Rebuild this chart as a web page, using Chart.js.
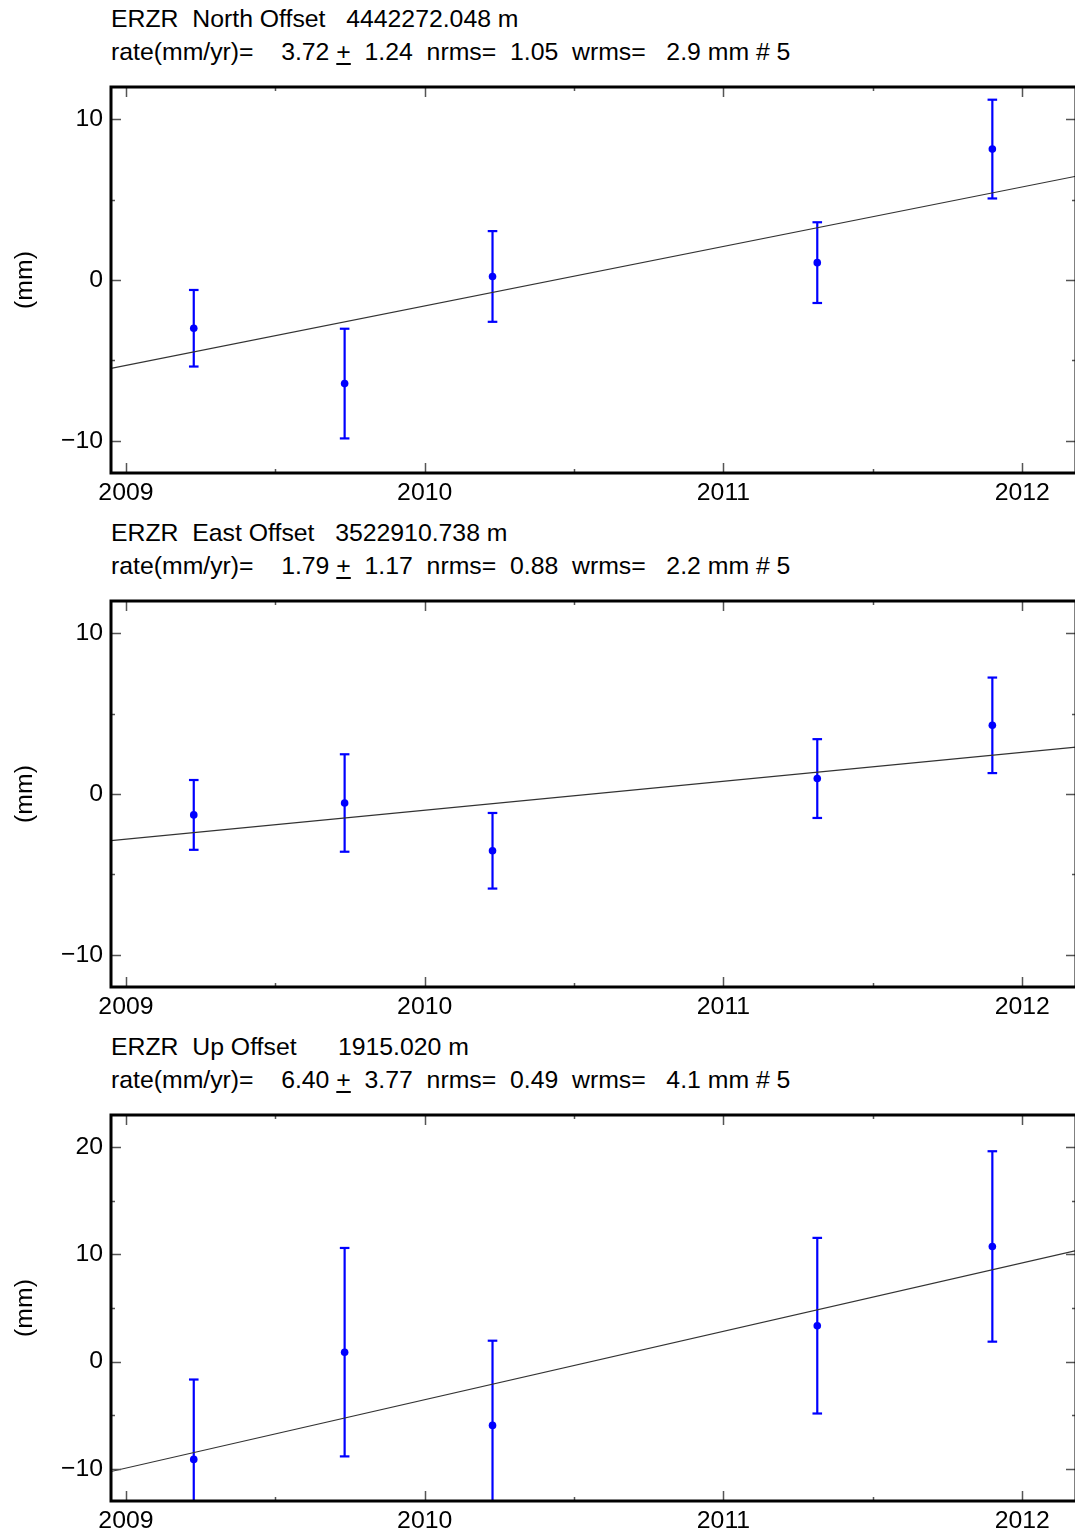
<!DOCTYPE html>
<html>
<head>
<meta charset="utf-8">
<script src="https://cdn.jsdelivr.net/npm/chart.js@4"></script>
<style>
  html, body { margin: 0; padding: 0; background: #fff; overflow: hidden; }
  #page { position: relative; width: 1075px; height: 1533px; overflow: hidden; }
  .panel { position: absolute; left: 0; width: 1083px; height: 514px; }
  .panel canvas { position: absolute; left: 0; top: 0; }
  .head {
    position: absolute; left: 111px; top: 2px;
    font-family: 'Liberation Sans', Arial, sans-serif; font-size: 24.8px;
    line-height: 33px; white-space: pre; color: #000;
  }
  .head u { text-underline-offset: 3px; }
</style>
</head>
<body>
<div id="page">
  <div class="panel" style="top:0px">
    <div class="head">ERZR  North Offset   4442272.048 m
rate(mm/yr)=    3.72 <u>+</u>  1.24  nrms=  1.05  wrms=   2.9 mm # 5</div>
    <canvas id="northChart" width="1083" height="514"></canvas>
  </div>
  <div class="panel" style="top:514px">
    <div class="head">ERZR  East Offset   3522910.738 m
rate(mm/yr)=    1.79 <u>+</u>  1.17  nrms=  0.88  wrms=   2.2 mm # 5</div>
    <canvas id="eastChart" width="1083" height="514"></canvas>
  </div>
  <div class="panel" style="top:1028px">
    <div class="head">ERZR  Up Offset      1915.020 m
rate(mm/yr)=    6.40 <u>+</u>  3.77  nrms=  0.49  wrms=   4.1 mm # 5</div>
    <canvas id="upChart" width="1083" height="514"></canvas>
  </div>
</div>

<script>
// epochs of the five campaigns (decimal years)
const epochs = [2009.227, 2009.732, 2010.227, 2011.314, 2011.900];

// offsets (mm) and 1-sigma errors
const northVals = [-3.00, -6.44, 0.22, 1.08, 8.14];
const northErrs = [2.38, 3.41, 2.82, 2.51, 3.07];
const eastVals = [-1.30, -0.56, -3.53, 0.96, 4.27];
const eastErrs = [2.17, 3.03, 2.35, 2.45, 2.97];
const upVals = [-9.12, 0.88, -5.95, 3.35, 10.74];
const upErrs = [7.45, 9.72, 7.90, 8.19, 8.88];

// fitted trend lines, value at the left and right edge of the frame
const trendEpochs = [2008.95, 2012.18];
const northTrend = [-5.50, 6.45];
const eastTrend = [-2.90, 2.92];
const upTrend = [-10.25, 10.35];

// axis ticks
const xTicks = [2009, 2009.5, 2010, 2010.5, 2011, 2011.5, 2012];
const yTicksNE = [-10, -5, 0, 5, 10];
const yTicksUp = [-10, -5, 0, 5, 10, 15, 20];

const FONT = 'Liberation Sans';
const BLUE = '#0000ff';

// draws the heavy frame and the inward tick marks on all four sides
const frameTicks = {
    id: 'frameTicks',
    afterDraw(chart) {
        const ctx = chart.ctx;
        const a = chart.chartArea;
        const xs = chart.scales.x, ys = chart.scales.y;
        ctx.save();
        ctx.strokeStyle = '#555';
        ctx.lineWidth = 1.5;
        ctx.beginPath();
        xs.ticks.forEach(t => {
            const px = Math.round(xs.getPixelForValue(t.value)) + 0.5;
            const len = Number.isInteger(t.value) ? 10 : 4;
            ctx.moveTo(px, a.bottom); ctx.lineTo(px, a.bottom - len);
            ctx.moveTo(px, a.top); ctx.lineTo(px, a.top + len);
        });
        ys.ticks.forEach(t => {
            const py = Math.round(ys.getPixelForValue(t.value)) + 0.5;
            const len = t.value % 10 === 0 ? 10 : 4;
            ctx.moveTo(a.left, py); ctx.lineTo(a.left + len, py);
            ctx.moveTo(a.right, py); ctx.lineTo(a.right - len, py);
        });
        ctx.stroke();
        ctx.strokeStyle = '#000';
        ctx.lineWidth = 3;
        ctx.strokeRect(a.left, a.top, a.right - a.left, a.bottom - a.top);
        ctx.restore();
    }
};

function makeChart(id, vals, errs, trend, yMin, yMax, yTicks) {
    // error bar segments: low, high, gap
    const bars = [];
    epochs.forEach((t, i) => {
        bars.push({ x: t, y: vals[i] - errs[i] });
        bars.push({ x: t, y: vals[i] + errs[i] });
        bars.push({ x: t, y: null });
    });
    const points = epochs.map((t, i) => ({ x: t, y: vals[i] }));
    const line = trendEpochs.map((t, i) => ({ x: t, y: trend[i] }));

    return new Chart(document.getElementById(id), {
        type: 'scatter',
        data: {
            datasets: [
                {
                    data: line,
                    showLine: true,
                    borderColor: '#333',
                    borderWidth: 1.2,
                    pointRadius: 0
                },
                {
                    data: bars,
                    showLine: true,
                    spanGaps: false,
                    borderColor: BLUE,
                    borderWidth: 2.2,
                    pointStyle: 'line',
                    pointRadius: 4.8,
                    pointBorderColor: BLUE,
                    pointBorderWidth: 2.2
                },
                {
                    data: points,
                    pointRadius: 3.8,
                    backgroundColor: BLUE,
                    borderWidth: 0
                }
            ]
        },
        options: {
            responsive: false,
            animation: false,
            devicePixelRatio: 1,
            layout: { padding: { top: 87, right: 3, left: 0, bottom: 0 } },
            plugins: {
                legend: { display: false },
                tooltip: { enabled: false }
            },
            scales: {
                x: {
                    type: 'linear',
                    position: 'bottom',
                    min: 2008.95,
                    max: 2012.18,
                    afterBuildTicks: s => { s.ticks = xTicks.map(v => ({ value: v })); },
                    afterFit: s => { s.height = 41; },
                    grid: { display: false, drawTicks: false },
                    border: { display: false },
                    ticks: {
                        autoSkip: false,
                        maxRotation: 0,
                        padding: 5,
                        color: '#000',
                        font: { family: FONT, size: 24.8 },
                        callback: v => Number.isInteger(v) ? String(v) : ''
                    }
                },
                y: {
                    type: 'linear',
                    min: yMin,
                    max: yMax,
                    afterBuildTicks: s => { s.ticks = yTicks.map(v => ({ value: v })); },
                    afterFit: s => { s.width = 111; },
                    grid: { display: false, drawTicks: false },
                    border: { display: false },
                    title: {
                        display: true,
                        text: '(mm)',
                        color: '#000',
                        font: { family: FONT, size: 24.8 },
                        padding: { top: 10, bottom: 0 }
                    },
                    ticks: {
                        padding: 8,
                        color: '#000',
                        font: { family: FONT, size: 24.8 },
                        callback: v => v % 10 === 0 ? (v < 0 ? '\u2212' + Math.abs(v) : String(v)) : ''
                    }
                }
            }
        },
        plugins: [frameTicks]
    });
}

makeChart('northChart', northVals, northErrs, northTrend, -12, 12, yTicksNE);
makeChart('eastChart', eastVals, eastErrs, eastTrend, -12, 12, yTicksNE);
makeChart('upChart', upVals, upErrs, upTrend, -13, 23, yTicksUp);
</script>
</body>
</html>
